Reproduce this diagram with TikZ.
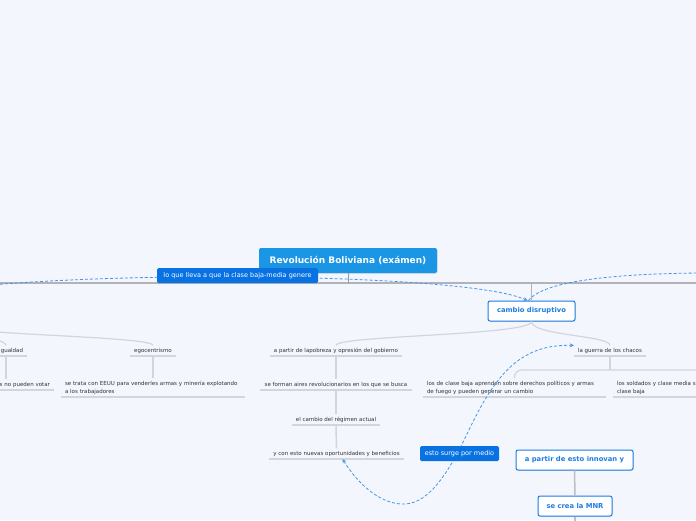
\documentclass[tikz,border=0pt]{standalone}
\usepackage{fontspec}
\setmainfont{DejaVu Sans}
\usetikzlibrary{arrows.meta,shadows}

\definecolor{paper}{RGB}{243,246,253}
\definecolor{rootblue}{RGB}{27,150,229}
\definecolor{tagblue}{RGB}{8,114,226}
\definecolor{boxblue}{RGB}{30,124,226}
\definecolor{linkblue}{RGB}{70,148,232}
\definecolor{trunkgray}{RGB}{178,179,184}
\definecolor{twiggray}{RGB}{210,213,220}
\definecolor{inkgray}{RGB}{51,51,51}

\begin{document}
\begin{tikzpicture}[x=1pt,y=-1pt,
    root/.style={fill=rootblue,text=white,rounded corners=2pt,inner sep=0pt,
      minimum width=178pt,minimum height=25pt,font=\fontsize{9}{10}\selectfont\bfseries,
      drop shadow={shadow xshift=0.5pt,shadow yshift=-0.8pt,opacity=0.2}},
    box/.style={draw=boxblue,line width=1pt,fill=white,text=boxblue,rounded corners=2pt,
      inner sep=0pt,minimum height=20pt,font=\fontsize{6.8}{8}\selectfont\bfseries,
      drop shadow={shadow xshift=0.5pt,shadow yshift=-0.8pt,opacity=0.2}},
    tag/.style={fill=tagblue,text=white,rounded corners=1.5pt,inner sep=0pt,
      minimum height=15pt,font=\fontsize{6.5}{8}\selectfont},
    topic/.style={text=inkgray,anchor=south,inner xsep=4pt,inner ysep=2.5pt,
      text height=4pt,text depth=1.2pt,font=\fontsize{5.5}{8}\selectfont},
    topictwo/.style={text=inkgray,anchor=south,inner xsep=4pt,inner ysep=2.5pt,
      align=left,font=\fontsize{5.5}{8}\selectfont},
    trunk/.style={draw=trunkgray,line width=1.5pt},
    stem/.style={draw=trunkgray!85,line width=1.5pt},
    branch/.style={draw=twiggray,line width=1.2pt},
    twig/.style={draw=twiggray,line width=1.5pt},
    under/.style={draw=twiggray,line width=1.5pt},
    link/.style={draw=linkblue,line width=0.8pt,dash pattern=on 3pt off 2pt},
    tip/.style={-{Stealth[length=4pt,width=4pt]}},
    twotips/.style={{Stealth[length=4pt,width=4pt]}-{Stealth[length=4pt,width=4pt]}}]

  % --- the sheet ---
  \useasboundingbox (0,0) rectangle (696,520);
  \fill[paper] (0,0) rectangle (696,520);
  \clip (0,0) rectangle (696,520);

  % --- central topic and the main line ---
  \node[root] (root) at (348,260.5) {Revolución Boliviana (exámen)};
  \coordinate (trunkwest) at (0,283);
  \coordinate (trunkeast) at (696,283);
  \node[box,minimum width=87pt] (cambio) at (531.5,311) {cambio disruptivo};

  % --- topics on the left, parent out of the sheet ---
  \coordinate (offleft) at (-70,321);
  \node[topic,text width=34pt,align=right] (gualdad) at (6,356) {gualdad};
  \node[topic,text width=88pt,align=right] (votar) at (6,390) {s no pueden votar};
  \node[topic,minimum width=46pt] (ego) at (153,356) {egocentrismo};
  \node[topictwo,text width=176pt] (eeuu) at (153,397)
    {se trata con EEUU para venderles armas y minería explotando\\a los trabajadores};

  % --- topics under cambio disruptivo ---
  \node[topic,minimum width=132pt] (lpob) at (336,356) {a partir de lapobreza y opresión del gobierno};
  \node[topic,minimum width=152pt] (aires) at (336,390) {se forman aires revolucionarios en los que se busca};
  \node[topic,minimum width=88pt] (regimen) at (336,425) {el cambio del régimen actual};
  \node[topic,minimum width=135pt] (conesto) at (336.5,459) {y con esto nuevas oportunidades y beneficios};
  \node[topic,minimum width=72pt] (chacos) at (610,356) {la guerra de los chacos};
  \node[topictwo,text width=175pt] (clase) at (514.5,397)
    {los de clase baja aprenden sobre derechos políticos y armas\\de fuego y pueden generar un cambio};
  \node[topictwo,text width=175pt] (soldados) at (704.5,397)
    {los soldados y clase media s\\clase baja};

  % --- the two boxes at the bottom ---
  \node[box,minimum width=117pt] (innovan) at (574.5,460) {a partir de esto innovan y};
  \node[box,minimum width=74pt] (mnr) at (575,506) {se crea la MNR};
  \coordinate (mnrtail) at (575,525);

  % --- lines of the map ---
  \draw[trunk] (trunkwest) -- (trunkeast);
  \draw[draw=gray!80,line width=0.8pt] (root.south) -- (root.south |- trunkwest);
  \draw[trunk] (cambio.north) -- (cambio.north |- trunkwest);
  \draw[branch] (offleft) .. controls +(0,14) and +(0,-10) .. (ego.north);
  \draw[branch] (offleft) .. controls +(0,14) and +(0,-10) .. (gualdad.north);
  \draw[branch] (cambio.south) .. controls +(0,14) and +(0,-10) .. (lpob.north);
  \draw[branch] (cambio.south) .. controls +(0,14) and +(0,-10) .. (chacos.north);
  \draw[twig] (gualdad.south) -- (votar.north);
  \draw[twig] (ego.south) -- (eeuu.north);
  \draw[twig] (lpob.south) -- (aires.north);
  \draw[twig] (aires.south) -- (regimen.north);
  \draw[twig] (regimen.south) -- (conesto.north);
  \draw[twig] (chacos.south) -- ++(0,14) coordinate (fork);
  \draw[branch,rounded corners=7pt] (fork) -| (clase.north);
  \draw[branch,rounded corners=7pt] (fork) -| (soldados.north);
  \draw[stem] (innovan.south) -- (mnr.north);
  \draw[stem] (mnr.south) -- (mnrtail);
  \foreach \n in {gualdad,votar,ego,eeuu,lpob,aires,regimen,conesto,chacos,clase,soldados}
    \draw[under] (\n.south west) -- (\n.south east);

  % --- dashed relations ---
  \coordinate (linkwest) at (-20,286);
  \coordinate (linkeast) at (700,273);
  \draw[link,tip] (linkwest) .. controls (150,270) and (470,275) .. ([xshift=-4pt]cambio.north);
  \draw[link] ([xshift=-3pt]cambio.north) .. controls (540,285) and (590,274) .. (linkeast);
  \draw[link,twotips] ([xshift=6pt]conesto.south) .. controls (362,490) and (385,505) .. (405,504)
    .. controls (430,503) and (450,470) .. (468,432)
    .. controls (495,375) and (520,344) .. (chacos.north west);

  % --- labels of the relations ---
  \node[tag,minimum width=161pt] (lleva) at (237.5,275.5) {lo que lleva a que la clase baja-media genere};
  \node[tag,minimum width=79pt] (surge) at (459.5,453.5) {esto surge por medio};
\end{tikzpicture}
\end{document}
